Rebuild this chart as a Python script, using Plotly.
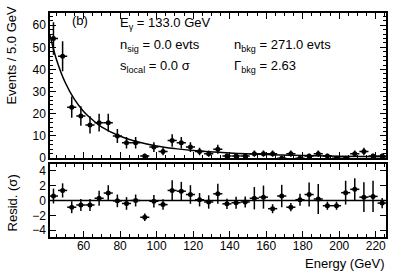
import plotly.graph_objects as go

# ---- data ----
energy = [43.5, 48.5, 53.5, 58.5, 63.5, 68.5, 73.5, 78.5, 83.5, 88.5,
          93.5, 98.5, 103.5, 108.5, 113.5, 118.5, 123.5, 128.5, 133.5, 138.5,
          143.5, 148.5, 153.5, 158.5, 163.5, 168.5, 173.5, 178.5, 183.5, 188.5,
          193.5, 198.5, 203.5, 208.5, 213.5, 218.5, 223.5]
counts = [54, 46, 23, 19, 15, 16, 16, 10, 7, 7,
          1, 5, 3, 8, 7, 5, 3, 2, 4, 1,
          1, 1, 2, 2, 2, 0, 2, 0, 1, 2,
          1, 0, 0, 2, 3, 1, 1]
count_err = [7.3, 6.8, 4.8, 4.4, 3.9, 4.0, 4.0, 3.2, 2.6, 2.6,
             1.0, 2.2, 1.7, 2.8, 2.6, 2.2, 1.7, 1.4, 2.0, 1.0,
             1.0, 1.0, 1.4, 1.4, 1.4, 0.6, 1.4, 0.6, 1.0, 1.4,
             1.0, 0.6, 0.6, 1.4, 1.7, 1.0, 1.0]
resid = [0.6, 1.35, -0.9, -0.6, -0.6, 0.3, 1.0, -0.05, -0.4, 0.0,
         -2.25, -0.1, -0.55, 1.35, 1.25, 0.8, 0.1, -0.2, 0.9, -0.45,
         -0.3, -0.2, 0.3, 0.45, -1.1, 0.6, -0.9, 0.1, 0.8, 0.2,
         -0.7, -0.7, 1.05, 1.5, 0.45, 0.55, -0.35]
resid_err = [1.0, 0.95, 0.8, 0.8, 0.8, 1.0, 1.05, 0.85, 0.85, 0.8,
             0.5, 0.85, 0.7, 1.35, 1.25, 1.25, 0.9, 0.9, 1.35, 0.7,
             0.8, 0.75, 1.5, 1.55, 0.6, 1.5, 0.55, 0.8, 1.6, 2.0,
             0.55, 0.55, 1.6, 1.5, 2.0, 2.1, 0.7]
bin_half = [2.5] * len(energy)

fit_energy = [41.6, 45, 50, 55, 60, 65, 70, 80, 90, 100, 110, 120, 140, 160, 180, 200, 225.6]
fit_values = [55.5, 44.9, 34.0, 26.5, 21.1, 17.2, 14.0, 9.9, 7.3, 5.5, 4.3, 3.4, 2.3, 1.6, 1.2, 0.9, 0.65]

x_ticks = [60, 80, 100, 120, 140, 160, 180, 200, 220]

FONT = "Liberation Sans, Arial, sans-serif"

fig = go.Figure()
fig.add_trace(go.Scatter(
    x=fit_energy, y=fit_values, mode="lines", line=dict(color="black", width=1.5, shape="spline"),
    xaxis="x", yaxis="y", hoverinfo="skip"))
fig.add_trace(go.Scatter(
    x=energy, y=counts, mode="markers", marker=dict(color="black", size=5),
    error_y=dict(type="data", array=count_err, color="black", thickness=1.5, width=0),
    error_x=dict(type="data", array=bin_half, color="black", thickness=1.5, width=0),
    xaxis="x", yaxis="y"))
fig.add_trace(go.Scatter(
    x=energy, y=resid, mode="markers", marker=dict(color="black", size=5),
    error_y=dict(type="data", array=resid_err, color="black", thickness=1.5, width=0),
    error_x=dict(type="data", array=bin_half, color="black", thickness=1.5, width=0),
    xaxis="x2", yaxis="y2"))

XR = [41.6, 225.6]
axis_common = dict(showline=True, linecolor="black", linewidth=1.5, mirror="allticks",
                   ticks="inside", ticklen=6, tickcolor="black", tickwidth=1,
                   showgrid=False, zeroline=False,
                   tickfont=dict(family=FONT, size=12, color="black"))

fig.update_layout(
    width=399, height=273,
    margin=dict(l=50, r=13, t=13, b=36),
    paper_bgcolor="white", plot_bgcolor="white",
    showlegend=False,
    font=dict(family=FONT, color="black"),
    xaxis=dict(domain=[0, 1], range=XR, anchor="y", tickvals=x_ticks, showticklabels=False,
               minor=dict(dtick=5, ticks="inside", ticklen=3, tickcolor="black"), **axis_common),
    yaxis=dict(domain=[0.352, 1], range=[0, 65.5], anchor="x", dtick=10,
               minor=dict(dtick=2, ticks="inside", ticklen=3, tickcolor="black"), **axis_common),
    xaxis2=dict(domain=[0, 1], range=XR, anchor="y2", tickvals=x_ticks, matches="x",
                ticklabelstandoff=-3,
                minor=dict(dtick=5, ticks="inside", ticklen=3, tickcolor="black"), **axis_common),
    yaxis2=dict(domain=[0, 0.326], range=[-4.9, 4.9], anchor="x2", tickvals=[-4, -2, 0, 2, 4],
                **axis_common),
    shapes=[dict(type="line", xref="x2", yref="y2", x0=XR[0], x1=XR[1], y0=0, y1=0,
                 line=dict(color="black", width=1.5))],
)

def txt(x, y, s, size=13, **kw):
    fig.add_annotation(x=x, y=y, xref="paper", yref="paper", text=s, showarrow=False,
                       font=dict(family=FONT, size=size, color="black"), **kw)

txt(0.06, 0.965, "(b)", xanchor="left", yanchor="middle")
txt(0.202, 0.951, "E<sub>γ</sub> = 133.0 GeV", xanchor="left", yanchor="middle")
txt(0.202, 0.853, "n<sub>sig</sub> = 0.0 evts", xanchor="left", yanchor="middle")
txt(0.202, 0.759, "s<sub>local</sub> = 0.0 σ", xanchor="left", yanchor="middle")
txt(0.542, 0.853, "n<sub>bkg</sub> = 271.0 evts", xanchor="left", yanchor="middle")
txt(0.542, 0.759, "Γ<sub>bkg</sub> = 2.63", xanchor="left", yanchor="middle")
txt(-0.113, 1.04, "Events / 5.0 GeV", textangle=-90, xanchor="center", yanchor="top")
txt(-0.113, 0.15, "Resid. (σ)", textangle=-90, xanchor="center", yanchor="middle")
txt(1.0, -0.12, "Energy (GeV)", xanchor="right", yanchor="middle")

fig.write_html("out.html", config={"displayModeBar": False},
               post_script="document.body.style.margin='0';document.body.style.overflow='hidden';")
